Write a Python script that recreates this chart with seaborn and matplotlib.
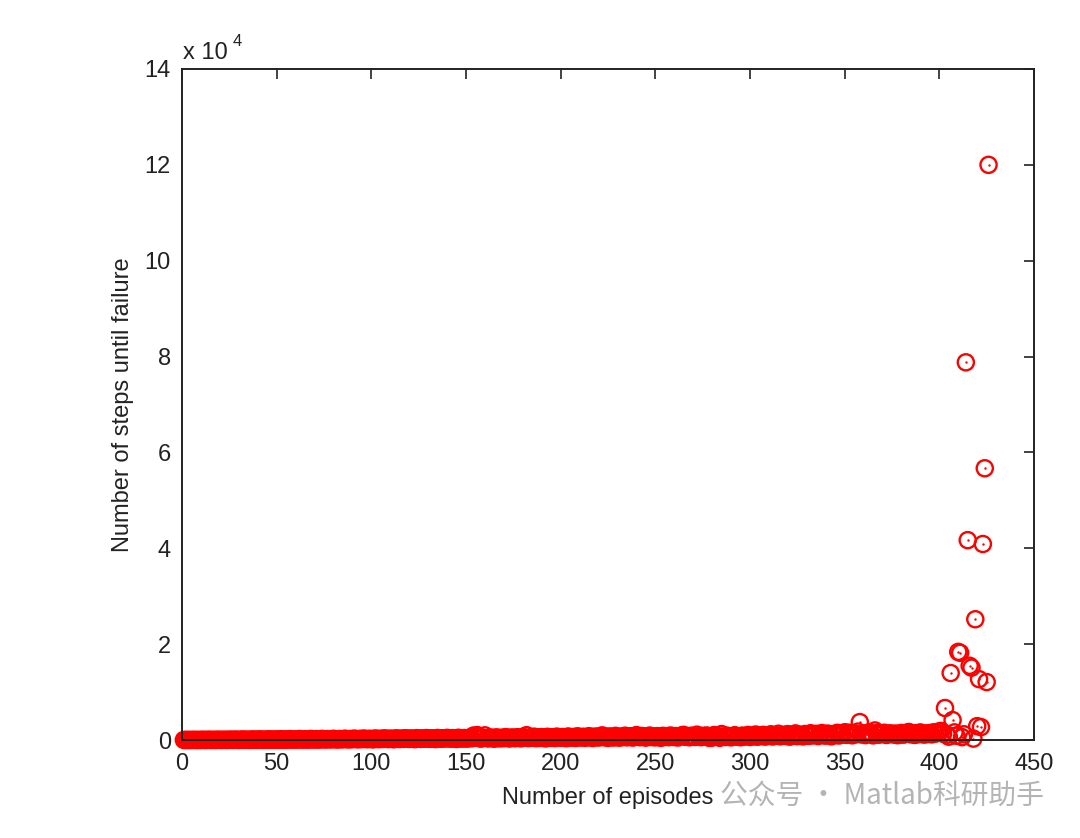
import numpy as np
import pandas as pd
import matplotlib
matplotlib.use("Agg")
import matplotlib.pyplot as plt
from matplotlib.ticker import FuncFormatter
import seaborn as sns

# steps until failure for each episode
steps_1_150 = [
    22, 15, 31, 12, 18, 40, 27, 9, 35, 14, 52, 23, 19, 61, 33, 28, 45, 17, 70, 38, 26, 55, 41, 30, 83,
    47, 36, 92, 58, 29, 64, 110, 43, 77, 51, 38, 125, 69, 88, 54, 140, 72, 46, 98, 63, 157, 81, 59, 118, 95,
    66, 173, 104, 87, 132, 75, 190, 112, 93, 148, 84, 205, 121, 99, 166, 137, 78, 224, 143, 109, 181, 128, 96, 240, 155,
    117, 196, 162, 135, 258, 174, 103, 213, 186, 149, 275, 199, 126, 231, 168, 292, 211, 152, 247, 189, 310, 226, 171, 264, 203,
    139, 329, 238, 184, 281, 219, 346, 255, 196, 300, 233, 160, 365, 268, 212, 318, 249, 384, 283, 227, 337, 262, 178, 401, 297,
    241, 355, 276, 420, 311, 254, 372, 290, 195, 438, 324, 269, 390, 305, 457, 338, 282, 408, 319, 221, 475, 352, 296, 426, 333,
]
steps_151_300 = [
    310, 488, 367, 940, 512, 1020, 388, 295, 455, 980, 402, 336, 520, 418, 274, 563, 431, 349, 498, 385, 612, 447, 320, 536, 468,
    377, 588, 490, 355, 640, 520, 1010, 412, 565, 483, 700, 398, 552, 437, 618, 506, 341, 672, 529, 460, 598, 423, 715, 548, 487,
    630, 512, 389, 744, 571, 498, 655, 438, 782, 594, 520, 690, 465, 612, 808, 553, 430, 720, 642, 511, 845, 968, 578, 690, 452,
    760, 604, 532, 870, 655, 488, 742, 618, 905, 566, 690, 802, 520, 640, 1030, 712, 584, 850, 667, 503, 780, 928, 612, 738, 560,
    820, 695, 470, 880, 640, 752, 590, 945, 706, 612, 830, 538, 760, 990, 1080, 660, 812, 575, 902, 728, 640, 1120, 786, 600, 870,
    715, 960, 520, 480, 510, 1040, 690, 850, 470, 1250, 745, 630, 905, 780, 560, 840, 1010, 690, 760, 590, 930, 705, 820, 1060, 650,
]
steps_301_400 = [
    880, 760, 1150, 690, 940, 820, 1080, 710, 980, 860, 1200, 740, 1020, 900, 1310, 780, 960, 1100, 850, 1240, 700, 1050, 930, 1380, 820,
    1120, 990, 760, 1260, 1040, 880, 1420, 960, 1180, 1300, 840, 1090, 1460, 1010, 920, 1350, 1140, 780, 1230, 1060, 1500, 950, 1280, 1170, 1620,
    1080, 1540, 1320, 990, 1410, 1200, 1760, 3750, 1150, 1380, 1040, 1290, 1600, 1220, 980, 2000, 1450, 1110, 1330, 1250, 1520, 1060, 1180, 1400, 1290,
    1140, 1360, 1010, 1230, 1480, 1120, 1300, 1560, 1680, 1190, 1350, 1070, 1440, 1210, 1590, 1280, 1130, 1380, 1250, 1460, 1190, 1620, 1340, 1520, 1820,
]
steps_401_426 = [
    1900, 1300, 6680, 1100, 700, 13980, 4170, 1600, 900, 18400, 18200, 600, 1200,
    78800, 41700, 15500, 15100, 300, 25200, 2900, 12700, 2700, 40900, 56700, 12100, 120000,
]

steps = steps_1_150 + steps_151_300 + steps_301_400 + steps_401_426
episodes = list(range(1, len(steps) + 1))
df = pd.DataFrame({"episode": episodes, "steps": steps})

x_ticks = [0, 50, 100, 150, 200, 250, 300, 350, 400, 450]
y_ticks = [0, 20000, 40000, 60000, 80000, 100000, 120000, 140000]

sns.set_style("white")
plt.rcParams["font.family"] = ["Liberation Sans", "DejaVu Sans"]

fig = plt.figure(figsize=(10.8, 8.38), dpi=100)
ax = fig.add_axes([0.1685, 0.1169, 0.7889, 0.8008])

sns.scatterplot(data=df, x="episode", y="steps", ax=ax, marker="o", s=135,
                facecolors="none", edgecolor="#ff0000", linewidth=1.7,
                clip_on=False, legend=False, zorder=2)
sns.scatterplot(data=df, x="episode", y="steps", ax=ax, marker="o", s=3,
                color="#ff0000", linewidth=0, clip_on=False, legend=False, zorder=2)

ax.set_xlim(0, 450)
ax.set_ylim(0, 140000)
ax.set_xticks(x_ticks)
ax.set_yticks(y_ticks)
ax.yaxis.set_major_formatter(FuncFormatter(lambda v, p: f"{v / 1e4:g}"))
ax.tick_params(direction="in", length=7, width=1.2, labelsize=17, colors="#222222",
               top=True, right=True)
ax.tick_params(axis="x", pad=9)
ax.tick_params(axis="y", pad=8)
for sp in ax.spines.values():
    sp.set_visible(True)
    sp.set_color("#222222")
    sp.set_linewidth(1.4)
    sp.set_zorder(3)

ax.set_xlabel("Number of episodes", fontsize=17, color="#222222", labelpad=9)
ax.set_ylabel("Number of steps until failure", fontsize=17, color="#222222", labelpad=8)

ax.text(0.001, 1.008, "x 10", transform=ax.transAxes, fontsize=17, color="#222222",
        ha="left", va="bottom")
ax.text(0.059, 1.03, "4", transform=ax.transAxes, fontsize=12, color="#222222",
        ha="left", va="bottom")

fig.text(0.967, 0.051, "公众号 · Matlab科研助手", fontsize=20, color="#b4b4b4",
         ha="right", va="center", family=["Noto Sans CJK SC", "DejaVu Sans"])

fig.savefig("out.png", dpi=100, facecolor="white")
